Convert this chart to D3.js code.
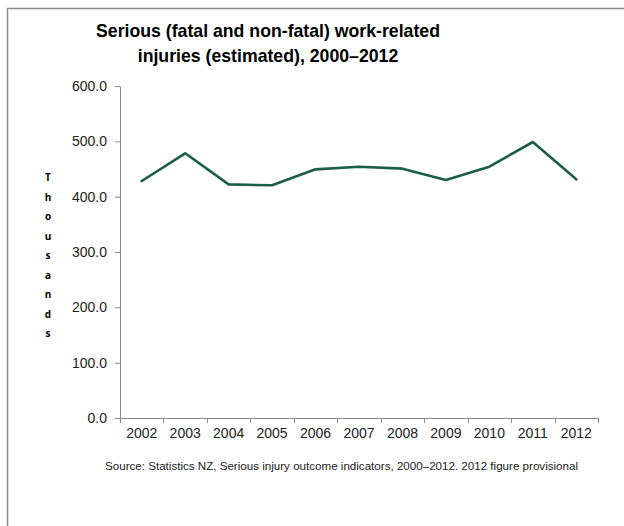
<!DOCTYPE html>
<html>
<head>
<meta charset="utf-8">
<script src="https://cdn.jsdelivr.net/npm/d3@7"></script>
<style>
  html, body { margin: 0; padding: 0; background: #fff; }
  svg { display: block; }
</style>
</head>
<body>
<svg id="chart" width="624" height="526"></svg>
<script>
// Serious work-related injuries, thousands per year
const years = ["2002", "2003", "2004", "2005", "2006", "2007", "2008", "2009", "2010", "2011", "2012"];
const injuries = [428.3, 478.4, 422.2, 420.5, 449.4, 454.2, 450.6, 430.1, 454.2, 498.8, 431.4];
const yTicks = [0, 100, 200, 300, 400, 500, 600];
const titleLines = ["Serious (fatal and non-fatal) work-related", "injuries (estimated), 2000\u20132012"];
const yLabel = "Thousands";
const sourceNote = "Source: Statistics NZ, Serious injury outcome indicators, 2000\u20132012.  2012 figure  provisional";

const svg = d3.select("#chart");
const font = "'Liberation Sans', Arial, sans-serif";
const axisColor = "#888";

// Frame around the figure (open on the right and bottom)
svg.append("path")
  .attr("d", "M7.5,526 V8.5 H624")
  .attr("fill", "none")
  .attr("stroke", "#8c8c8c")
  .attr("stroke-width", 1.5);

const plot = { left: 120, right: 598, top: 86, bottom: 418 };

const x = d3.scaleBand().domain(years).range([plot.left, plot.right]).padding(0);
const y = d3.scaleLinear().domain([0, 600]).range([plot.bottom, plot.top]);

// Title
svg.append("text")
  .attr("x", 268).attr("y", 37)
  .attr("text-anchor", "middle")
  .attr("font-family", font).attr("font-weight", "bold").attr("font-size", 17.7)
  .attr("fill", "#000")
  .selectAll("tspan").data(titleLines).join("tspan")
  .attr("x", 268).attr("dy", (d, i) => i === 0 ? 0 : 25)
  .text(d => d);

// Y axis
const yAxis = svg.append("g")
  .attr("transform", `translate(${plot.left},0)`)
  .call(d3.axisLeft(y).tickValues(yTicks).tickFormat(d3.format(".1f")).tickSize(5).tickSizeOuter(0).tickPadding(8));
yAxis.select(".domain").attr("stroke", axisColor);
yAxis.selectAll(".tick line").attr("stroke", axisColor);
yAxis.selectAll(".tick text").attr("font-family", font).attr("font-size", 14).attr("fill", "#222");

// X axis with ticks at category boundaries
const xAxis = svg.append("g")
  .attr("transform", `translate(0,${plot.bottom})`)
  .call(d3.axisBottom(x).tickSize(0).tickPadding(10));
xAxis.select(".domain").attr("stroke", axisColor).attr("d", `M${plot.left},0.5H${plot.right}`);
xAxis.selectAll(".tick text").attr("font-family", font).attr("font-size", 14).attr("fill", "#222");
const bounds = years.map(d => x(d)).concat([x(years[years.length - 1]) + x.bandwidth()]);
xAxis.selectAll(".bound").data(bounds).join("line")
  .attr("class", "bound")
  .attr("x1", d => Math.round(d) + 0.5).attr("x2", d => Math.round(d) + 0.5)
  .attr("y1", 0).attr("y2", 5)
  .attr("stroke", axisColor);

// Vertical axis title, one letter per line
svg.append("g").selectAll("text").data(yLabel.split("")).join("text")
  .attr("x", 48).attr("y", (d, i) => 181 + i * 19.5)
  .attr("text-anchor", "middle")
  .attr("font-family", "'Open Sans', 'DejaVu Sans', sans-serif")
  .attr("font-weight", "bold").attr("font-size", 10)
  .attr("fill", "#000")
  .text(d => d);

// Data line
const line = d3.line()
  .x((d, i) => x(years[i]) + x.bandwidth() / 2)
  .y(d => y(d));
svg.append("path")
  .datum(injuries)
  .attr("d", line)
  .attr("fill", "none")
  .attr("stroke", "#1b5e46")
  .attr("stroke-width", 2.6)
  .attr("stroke-linejoin", "round")
  .attr("stroke-linecap", "round");

// Source note
svg.append("text")
  .attr("x", 105).attr("y", 470)
  .attr("font-family", font).attr("font-size", 11.6)
  .attr("fill", "#222")
  .text(sourceNote);
</script>
</body>
</html>
